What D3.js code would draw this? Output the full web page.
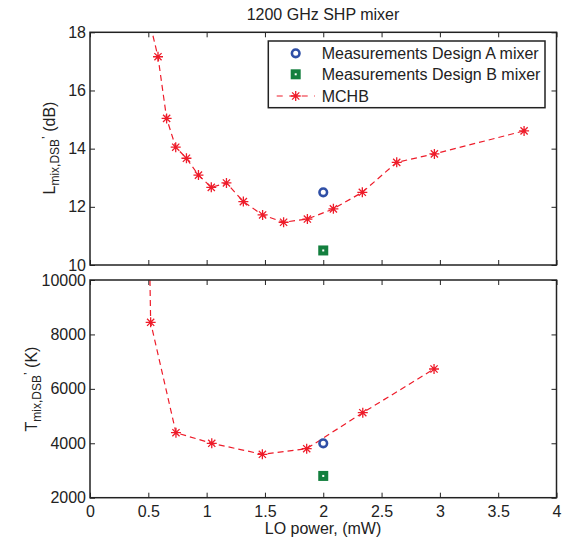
<!DOCTYPE html>
<html>
  <head>
    <meta charset="utf-8">
    <script src="https://d3js.org/d3.v7.min.js"></script>
    <title>1200 GHz SHP mixer</title>
    <style>
      body { margin: 0px; background: #fff; }
      text { font-family: "Liberation Sans", Arial, sans-serif; fill: #222; }
      .domain { display: none; }
      .tick line { stroke: #222; stroke-width: 1; }
      .tick text { font-size: 16px; fill: #222; }
    </style>
  </head>
  <body>
    <svg width="576" height="540"></svg>
    <script>
      // LO power (mW) and conversion loss (dB), MCHB simulation
      const lossX = [0.5, 0.583, 0.657, 0.735, 0.827, 0.93, 1.04, 1.17, 1.315, 1.48, 1.66, 1.864, 2.087, 2.335, 2.63, 2.953, 3.722];
      const lossY = [18.55, 17.16, 15.04, 14.05, 13.67, 13.09, 12.67, 12.82, 12.18, 11.72, 11.47, 11.58, 11.93, 12.5, 13.53, 13.82, 14.61];
      // LO power (mW) and mixer noise temperature (K), MCHB simulation
      const tempX = [0.51, 0.52, 0.737, 1.044, 1.478, 1.858, 2.339, 2.95];
      const tempY = [11100, 8446, 4389, 3999, 3595, 3801, 5124, 6730];
      // measurements
      const measX = 2;
      const designALoss = 12.5, designBLoss = 10.5;
      const designATemp = 4000, designBTemp = 2800;

      const xTicks = [0, 0.5, 1, 1.5, 2, 2.5, 3, 3.5, 4];
      const lossTicks = [10, 12, 14, 16, 18];
      const tempTicks = [2000, 4000, 6000, 8000, 10000];
      const legendLabels = ['Measurements Design A mixer', 'Measurements Design B mixer', 'MCHB'];

      const red = '#ee1c2a', blue = '#2f4fa6', green = '#137f3e';

      const svg = d3.select('svg');
      const left = 90, right = 556.5;

      const x = d3.scaleLinear().domain([0, 4]).range([left, right]);
      const yTop = d3.scaleLinear().domain([10, 18]).range([265, 32.3]);
      const yBot = d3.scaleLinear().domain([2000, 10000]).range([497.7, 280]);

      const star = d3.symbol().type({
        draw(ctx, size) {
          const r = Math.sqrt(size) / 2, d = r * 0.72;
          ctx.moveTo(-r, 0); ctx.lineTo(r, 0);
          ctx.moveTo(0, -r); ctx.lineTo(0, r);
          ctx.moveTo(-d, -d); ctx.lineTo(d, d);
          ctx.moveTo(-d, d); ctx.lineTo(d, -d);
        }
      }).size(100);

      function panel(id, y, xs, ys, yTicksList, showX, aVal, bVal) {
        const [y0, y1] = y.range();
        const g = svg.append('g');

        svg.append('clipPath').attr('id', id)
          .append('rect').attr('x', left).attr('y', y1)
          .attr('width', right - left).attr('height', y0 - y1);

        g.append('g').attr('transform', `translate(${left},0)`)
          .call(d3.axisLeft(y).tickValues(yTicksList).tickSizeInner(-5).tickSizeOuter(0).tickPadding(4).tickFormat(d3.format('d')));
        g.append('g').attr('transform', `translate(${right},0)`)
          .call(d3.axisRight(y).tickValues(yTicksList).tickSizeInner(-5).tickSizeOuter(0).tickFormat(''));
        g.append('g').attr('transform', `translate(0,${y1})`)
          .call(d3.axisTop(x).tickValues(xTicks).tickSizeInner(-5).tickSizeOuter(0).tickFormat(''));
        g.append('g').attr('transform', `translate(0,${y0})`)
          .call(d3.axisBottom(x).tickValues(xTicks).tickSizeInner(-5).tickSizeOuter(0).tickPadding(8)
            .tickFormat(showX ? d3.format('') : ''));

        const pts = xs.map((v, i) => [v, ys[i]]);
        const plot = g.append('g').attr('clip-path', `url(#${id})`);
        plot.append('path')
          .attr('d', d3.line().x(d => x(d[0])).y(d => y(d[1]))(pts))
          .attr('fill', 'none').attr('stroke', red).attr('stroke-width', 1.2)
          .attr('stroke-dasharray', '6,4');
        plot.selectAll('.star').data(pts).join('path')
          .attr('transform', d => `translate(${x(d[0])},${y(d[1])})`)
          .attr('d', star).attr('stroke', red).attr('stroke-width', 1.3).attr('fill', 'none');

        g.append('circle').attr('cx', x(measX)).attr('cy', y(aVal)).attr('r', 3.8)
          .attr('fill', 'none').attr('stroke', blue).attr('stroke-width', 2.6);
        g.append('rect').attr('x', x(measX) - 5).attr('y', y(bVal) - 5).attr('width', 10).attr('height', 10)
          .attr('fill', green);
        g.append('rect').attr('x', x(measX) - 1).attr('y', y(bVal) - 1).attr('width', 2).attr('height', 2)
          .attr('fill', '#fff');

        g.append('rect').attr('x', left).attr('y', y1).attr('width', right - left).attr('height', y0 - y1)
          .attr('fill', 'none').attr('stroke', '#222').attr('stroke-width', 1.5);
        return g;
      }

      panel('clipTop', yTop, lossX, lossY, lossTicks, false, designALoss, designBLoss);
      panel('clipBot', yBot, tempX, tempY, tempTicks, true, designATemp, designBTemp);

      // title and axis labels
      svg.append('text').attr('x', 323).attr('y', 20).attr('text-anchor', 'middle')
        .style('font-size', '16px').text('1200 GHz SHP mixer');
      svg.append('text').attr('x', 323).attr('y', 534).attr('text-anchor', 'middle')
        .style('font-size', '16px').text('LO power, (mW)');

      function yLabel(cx, cy, main, unit) {
        const t = svg.append('text').attr('transform', `translate(${cx},${cy}) rotate(-90)`)
          .attr('text-anchor', 'middle').style('font-size', '16px');
        t.append('tspan').text(main);
        t.append('tspan').attr('dy', 4).style('font-size', '12px').text('mix,DSB');
        t.append('tspan').attr('dy', -8).style('font-size', '12px').text('\u2019');
        t.append('tspan').attr('dy', 4).text(' ' + unit);
      }
      yLabel(55, 148, 'L', '(dB)');
      yLabel(37, 389, 'T', '(K)');

      // legend
      const lg = svg.append('g');
      lg.append('rect').attr('x', 268.3).attr('y', 41).attr('width', 276.7).attr('height', 66.7)
        .attr('fill', '#fff').attr('stroke', '#222').attr('stroke-width', 1.5);
      const rowY = [53.3, 74.3, 96];
      const mx = 295.7;
      lg.append('circle').attr('cx', mx).attr('cy', rowY[0]).attr('r', 3.8)
        .attr('fill', 'none').attr('stroke', blue).attr('stroke-width', 2.6);
      lg.append('rect').attr('x', mx - 5).attr('y', rowY[1] - 5).attr('width', 10).attr('height', 10).attr('fill', green);
      lg.append('rect').attr('x', mx - 1).attr('y', rowY[1] - 1).attr('width', 2).attr('height', 2).attr('fill', '#fff');
      lg.append('line').attr('x1', 276.7).attr('x2', 315).attr('y1', rowY[2]).attr('y2', rowY[2])
        .attr('stroke', red).attr('stroke-width', 1.2).attr('stroke-dasharray', '6,6.5').attr('stroke-dashoffset', 0);
      lg.append('path').attr('transform', `translate(${mx},${rowY[2]})`).attr('d', star)
        .attr('stroke', red).attr('stroke-width', 1.3).attr('fill', 'none');
      lg.selectAll('.lt').data(legendLabels).join('text')
        .attr('x', 321.7).attr('y', (d, i) => rowY[i] + 6)
        .style('font-size', '16px').text(d => d);
    </script>
  </body>
</html>
